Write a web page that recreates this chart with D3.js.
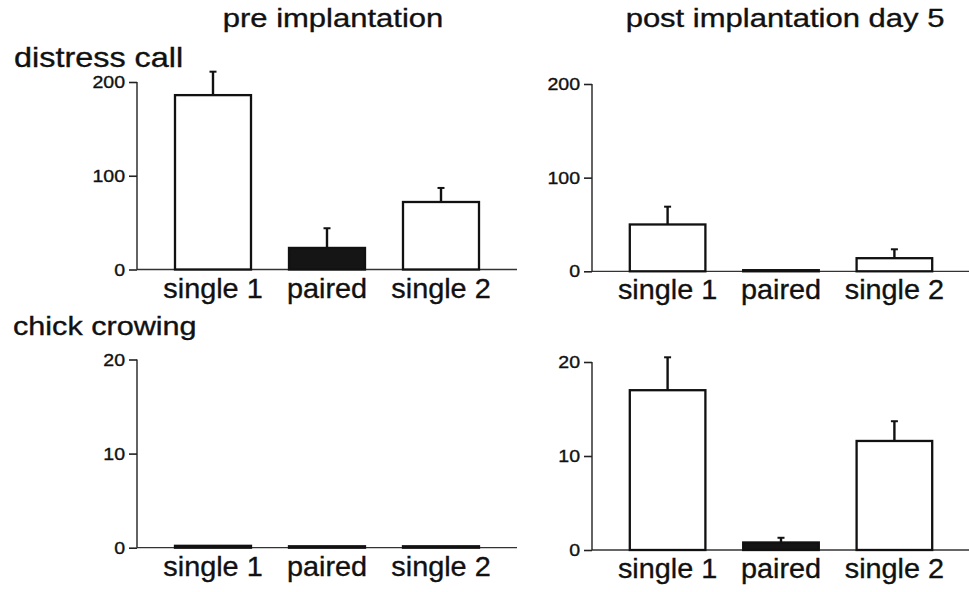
<!DOCTYPE html>
<html>
<head>
<meta charset="utf-8">
<script src="https://cdn.jsdelivr.net/npm/d3@7"></script>
<style>
    body { margin: 0; background: #fff; }
    text { font-family: "Liberation Sans", Arial, Helvetica, sans-serif; fill: #111; stroke: #111; stroke-width: 0.35px; }
</style>
</head>
<body>
<div class="chart"></div>
<script>
// Groups on the x axis
const categories = ["single 1", "paired", "single 2"];
const filledBar = [false, true, false];

// Distress calls (mean and SEM)
const distressPre = [186, 23, 72];
const distressPreErr = [25, 21, 15];
const distressPost = [50, 1.2, 14];
const distressPostErr = [19, 0, 9.5];

// Chick crowing (mean and SEM)
const crowingPre = [0.2, 0.15, 0.15];
const crowingPreErr = [0, 0, 0];
const crowingPost = [17, 0.8, 11.6];
const crowingPostErr = [3.5, 0.5, 2.1];

const distressTicks = [0, 100, 200];
const crowingTicks = [0, 10, 20];

const columnTitles = ["pre implantation", "post implantation day 5"];
const rowTitles = ["distress call", "chick crowing"];

const width = 969;
const height = 592;
const stretch = 1.17;

const svg = d3.select(".chart").append("svg")
    .attr("width", width)
    .attr("height", height);

// Text in the source figure is a bit wider than the font, so stretch it horizontally.
const addText = (x, y, str, size, anchor, sx = stretch) => {
    svg.append("text")
        .attr("transform", `translate(${x},${y}) scale(${sx},1)`)
        .attr("text-anchor", anchor)
        .style("font-size", `${size}px`)
        .text(str);
};

const panels = [
    { values: distressPre, errors: distressPreErr, ticks: distressTicks, x0: 137, x1: 517, y0: 269.5, y1: 82 },
    { values: distressPost, errors: distressPostErr, ticks: distressTicks, x0: 592, x1: 970, y0: 271.3, y1: 84 },
    { values: crowingPre, errors: crowingPreErr, ticks: crowingTicks, x0: 137, x1: 517, y0: 547.7, y1: 359.5 },
    { values: crowingPost, errors: crowingPostErr, ticks: crowingTicks, x0: 592, x1: 970, y0: 550, y1: 362 }
];

panels.forEach((p) => {
    const x = d3.scaleBand()
        .domain(categories)
        .range([p.x0, p.x1])
        .paddingInner(1 / 3)
        .paddingOuter(1 / 3);

    const y = d3.scaleLinear()
        .domain([0, d3.max(p.ticks)])
        .range([p.y0, p.y1]);

    const g = svg.append("g");

    // baseline
    g.append("line")
        .attr("x1", p.x0).attr("x2", p.x1)
        .attr("y1", y(0)).attr("y2", y(0))
        .attr("stroke", "#333")
        .attr("stroke-width", 1.3);

    // error bars (upper whisker only)
    const rows = categories.map((c, i) => ({ c, v: p.values[i], e: p.errors[i], filled: filledBar[i] }));

    g.selectAll(".err")
        .data(rows.filter(d => d.e > 0))
        .join("g")
        .each(function (d) {
            const cx = x(d.c) + x.bandwidth() / 2;
            const sel = d3.select(this);
            sel.append("line")
                .attr("x1", cx).attr("x2", cx)
                .attr("y1", y(d.v)).attr("y2", y(d.v + d.e))
                .attr("stroke", "#111").attr("stroke-width", 2.4);
            sel.append("line")
                .attr("x1", cx - 3.5).attr("x2", cx + 3.5)
                .attr("y1", y(d.v + d.e)).attr("y2", y(d.v + d.e))
                .attr("stroke", "#111").attr("stroke-width", 2);
        });

    // bars
    g.selectAll(".bar")
        .data(rows)
        .join("rect")
        .attr("x", d => x(d.c))
        .attr("width", x.bandwidth())
        .attr("y", d => y(d.v))
        .attr("height", d => y(0) - y(d.v))
        .attr("fill", d => d.filled ? "#151515" : "#fff")
        .attr("stroke", "#111")
        .attr("stroke-width", 2.3);

    // y axis
    const axis = g.append("g")
        .attr("transform", `translate(${p.x0},0)`)
        .call(d3.axisLeft(y).tickValues(p.ticks).tickSize(8).tickPadding(4).tickFormat(d3.format("d")));
    axis.select(".domain")
        .attr("d", `M0,${y(d3.max(p.ticks))}V${y(0)}`)
        .attr("stroke", "#222")
        .attr("stroke-width", 1.4);
    axis.selectAll(".tick line").attr("stroke", "#222").attr("stroke-width", 1.6);
    axis.selectAll(".tick text").remove();
    p.ticks.forEach((t) => addText(p.x0 - 12, y(t) + 6, t, 17, "end", 1.15));

    // category labels
    categories.forEach((c) => {
        addText(x(c) + x.bandwidth() / 2, y(0) + 28, c, 28, "middle", 1.03);
    });
});

addText(333, 27, columnTitles[0], 26.5, "middle");
addText(785, 27, columnTitles[1], 26.5, "middle");
addText(14, 67, rowTitles[0], 27, "start", 1.2);
addText(13, 335, rowTitles[1], 25.5, "start", 1.2);
</script>
</body>
</html>
